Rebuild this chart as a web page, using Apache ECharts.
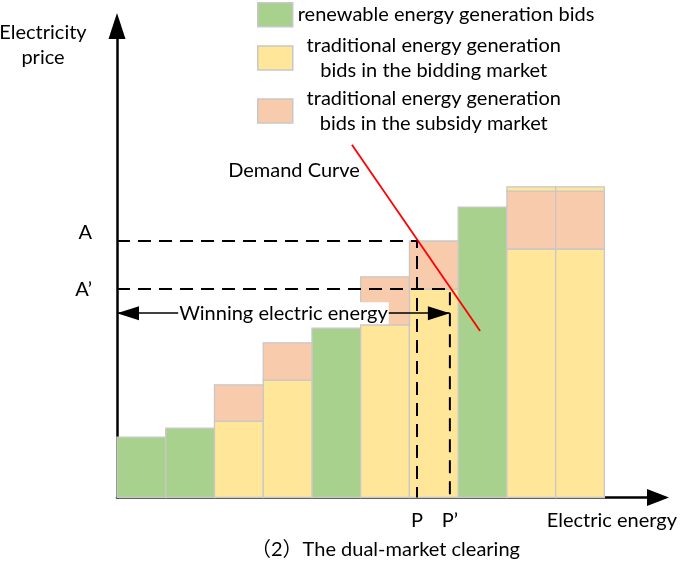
<!DOCTYPE html>
<html><head><meta charset="utf-8">
<script src="https://cdn.jsdelivr.net/npm/echarts@6/dist/echarts.min.js"></script>
<style>html,body{margin:0;padding:0;background:#fff}#c{width:685px;height:561px}</style>
</head><body><div id="c"></div><script>
// ---- data ----
const bidEnergy = [1, 1, 1, 1, 1, 1, 1, 1, 1, 1];
const renewablePrice = [12.8, 14.7, null, null, 35.9, null, null, 61.6, null, null];
const biddingPrice   = [null, null, 16.2, 24.9, null, 36.6, 44.2, null, 52.7, 52.7];
const subsidyPrice   = [null, null, 23.9, 32.8, null, 46.8, 54.4, null, 65.0, 65.0];
const biddingTopPrice = [null, null, null, null, null, null, null, null, 65.9, 65.9];
const priceTickLabels = ['A', 'A’'];
const priceTickValues = [54.4, 44.2];
const energyTickLabels = ['P', 'P’'];
const energyTickValues = [6.155, 6.83];
const demandCurve = [[4.82, 74.8], [7.45, 35.3]];
const winningPrice = 39.1;
const legendNames = ['renewable energy generation bids',
  'traditional energy generation bids in the bidding market',
  'traditional energy generation bids in the subsidy market'];

const FONT = 'Lato, "Noto Sans CJK SC", sans-serif';
const GREEN = '#a9d18e', YELLOW = '#ffe699', PINK = '#f8cbad', EDGE = '#c8c8c8';

const starts = []; let cum = 0;
bidEnergy.forEach(e => { starts.push(cum); cum += e; });
function rects(lowArr, highArr) {
  const out = [];
  highArr.forEach((h, i) => {
    if (h == null) return;
    out.push([starts[i], starts[i] + bidEnergy[i], lowArr ? lowArr[i] : 0, h]);
  });
  return out;
}
function renderRect(params, api) {
  const p0 = api.coord([api.value(0), api.value(2)]);
  const p1 = api.coord([api.value(1), api.value(3)]);
  return { type: 'rect', shape: { x: p0[0], y: p1[1], width: p1[0] - p0[0], height: p0[1] - p1[1] },
    style: api.style() };
}
function barSeries(name, color, data) {
  return { type: 'custom', name, renderItem: renderRect, data, z: 2,
    encode: { x: [0, 1], y: [2, 3] },
    itemStyle: { color, borderColor: EDGE, borderWidth: 1.3 } };
}
const A = priceTickValues[0], A2 = priceTickValues[1];
const P = energyTickValues[0], P2 = energyTickValues[1];
const dashStyle = { color: '#000', width: 2, type: [13, 8] };

const chart = echarts.init(document.getElementById('c'));
chart.setOption({
  animation: false,
  textStyle: { fontFamily: FONT },
  title: { text: '（2）The dual-market clearing', left: 246, top: 535,
    textStyle: { fontFamily: FONT, fontSize: 20, fontWeight: 'normal', color: '#000' } },
  legend: {
    orient: 'vertical', left: 257, top: 2, padding: 0, itemWidth: 35, itemHeight: 24, itemGap: 8,
    icon: 'rect', selectedMode: false, data: legendNames,
    itemStyle: { borderColor: EDGE, borderWidth: 1.5 },
    formatter: function (name) {
      if (name === legendNames[0]) return '{l|' + name + '}';
      const idx = name.indexOf(' bids');
      return '{c|' + name.slice(0, idx) + '}\n{c|' + name.slice(idx + 1) + '}';
    },
    textStyle: { fontFamily: FONT, fontSize: 20, color: '#000',
      rich: { l: { fontSize: 20, lineHeight: 25, color: '#000', fontFamily: FONT },
              c: { fontSize: 20, lineHeight: 25, width: 272, align: 'center', color: '#000', fontFamily: FONT } } }
  },
  grid: { left: 117, right: 27, top: 26, bottom: 63.5, outerBoundsMode: 'none' },
  xAxis: {
    type: 'value', min: 0, max: 11.1,
    name: 'Electric energy', nameLocation: 'end', nameGap: 19,
    nameTextStyle: { fontFamily: FONT, fontSize: 20, color: '#000', align: 'right', verticalAlign: 'top', padding: [13, 0, 0, 0] },
    axisLine: { show: true, lineStyle: { color: '#000', width: 2.5 }, symbol: ['none', 'triangle'], symbolSize: [17, 22] },
    axisTick: { show: false }, splitLine: { show: false },
    axisLabel: { customValues: energyTickValues, margin: 13, fontFamily: FONT, fontSize: 20, color: '#000',
      formatter: v => energyTickLabels[energyTickValues.indexOf(v)] || '' }
  },
  yAxis: {
    type: 'value', min: 0, max: 100,
    name: '{n|Electricity}\n{n|price}', nameLocation: 'end', nameGap: 5.5,
    nameTextStyle: { fontFamily: FONT, fontSize: 20, color: '#000', align: 'right', verticalAlign: 'top', padding: [0, 31, 0, 0],
      rich: { n: { width: 86, align: 'center', fontSize: 20, lineHeight: 25, color: '#000', fontFamily: FONT } } },
    axisLine: { show: true, lineStyle: { color: '#000', width: 2.5 }, symbol: ['none', 'triangle'], symbolSize: [17, 26] },
    axisTick: { show: false }, splitLine: { show: false },
    axisLabel: { customValues: priceTickValues, margin: 25, fontFamily: FONT, fontSize: 20, color: '#000',
      formatter: v => { const i = priceTickValues.indexOf(v); return i === 0 ? '{a|A}' : '{b|' + priceTickLabels[i] + '}'; },
      rich: { a: { fontSize: 20, color: '#000', fontFamily: FONT, padding: [0, 0, 16, 0] },
              b: { fontSize: 20, color: '#000', fontFamily: FONT } } }
  },
  series: [
    barSeries(legendNames[0], GREEN, rects(null, renewablePrice)),
    barSeries(legendNames[1], YELLOW, rects(null, biddingPrice)),
    barSeries(legendNames[2], PINK, rects(biddingPrice, subsidyPrice)),
    barSeries('bidding top', YELLOW, rects(subsidyPrice, biddingTopPrice)),
    { type: 'line', name: 'A-P', data: [[0, A], [P, A], [P, 0]], symbol: 'none', lineStyle: dashStyle, z: 3 },
    { type: 'line', name: 'A2-P2', data: [[0, A2], [P2, A2], [P2, 0]], symbol: 'none', lineStyle: dashStyle, z: 3,
      markLine: {
        silent: true, symbol: ['triangle', 'triangle'], symbolSize: [14, 22], symbolOffset: [[0, 11], [0, 11]],
        lineStyle: { color: '#000', width: 1.5, type: 'solid' },
        label: { show: true, position: 'middle', distance: 0, verticalAlign: 'middle', formatter: 'Winning electric energy',
          fontFamily: FONT, fontSize: 20, color: '#000', backgroundColor: '#fff', padding: [1, 1] },
        data: [[{ coord: [0, winningPrice] }, { coord: [P2, winningPrice] }]]
      } },
    { type: 'line', name: 'Demand Curve', symbolSize: 0, showSymbol: true, z: 4,
      lineStyle: { color: '#ff0000', width: 1.8 }, itemStyle: { color: '#ff0000' },
      data: [
        { value: demandCurve[0], label: { show: true, position: 'left', offset: [13, 26], formatter: 'Demand Curve',
            fontFamily: FONT, fontSize: 20, color: '#000' } },
        { value: demandCurve[1] }
      ] }
  ]
});
</script></body></html>
